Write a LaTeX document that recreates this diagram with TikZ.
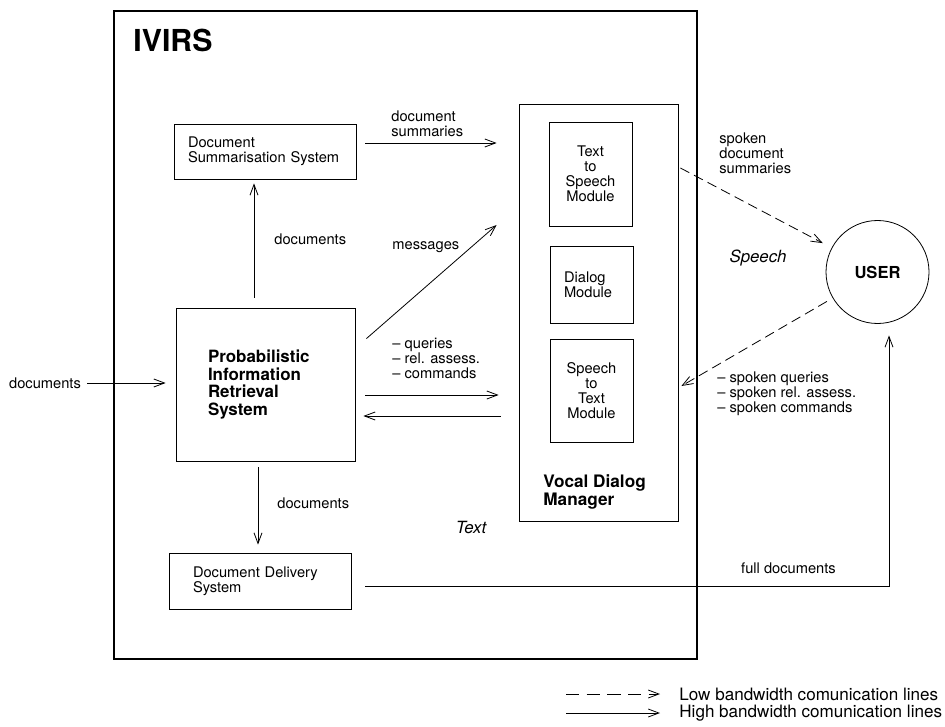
\documentclass[tikz,border=0pt]{standalone}
\usepackage{fontspec}
\setmainfont{TeX Gyre Heros}
\usetikzlibrary{arrows.meta,calc}

\begin{document}
\begin{tikzpicture}[x=0.75pt,y=-0.75pt]
        \tikzstyle{every path}=[line width=0.6pt]

        \tikzstyle{txt}=[font=\fontsize{11}{11.3}\selectfont,align=left,inner sep=0pt]
        \tikzstyle{heavy}=[font=\fontsize{12.7}{13.2}\selectfont\bfseries,align=left,inner sep=0pt]
        \tikzstyle{slant}=[font=\fontsize{12.6}{13}\selectfont\itshape,inner sep=0pt]
        \tikzstyle{legend}=[font=\fontsize{12.8}{13}\selectfont,inner sep=0pt,anchor=west]
        \tikzstyle{box}=[draw,rectangle,txt]
        \tikzstyle{hb}=[-{Straight Barb[length=8pt,width=6pt]}]
        \tikzstyle{lb}=[hb,dash pattern=on 7.5pt off 4pt]

        \useasboundingbox (0,0) rectangle (945,727);

        \node [draw,line width=1.8pt,minimum width=437.25pt,minimum height=486pt,inner sep=0pt] (ivirs) at (405.5,335) {};
        \node [anchor=west,inner sep=0pt,font=\fontsize{22.7}{24}\selectfont\bfseries] (title) at (133,40) {IVIRS};

        \node [box,minimum width=136.5pt,minimum height=41.25pt,text width=115.5pt,inner xsep=10.5pt] (dss) at (265,151.5) {Document\\Summarisation System};
        \node [box,heavy,minimum width=134.25pt,minimum height=114.75pt,text width=86.25pt,inner xsep=24pt] (pirs) at (265.5,384.5) {Probabilistic\\Information\\Retrieval\\System};
        \node [box,minimum width=136.5pt,minimum height=42pt,text width=100.5pt,inner xsep=18pt] (dds) at (260,581) {Document Delivery\\System};

        \node [draw,minimum width=119.25pt,minimum height=312.75pt,inner sep=0pt] (vdm) at (598.5,312.5) {};
        \node [heavy,anchor=west,font=\fontsize{12.9}{13.5}\selectfont\bfseries] (vdmlabel) at (543,492) {Vocal Dialog\\Manager};
        \node [box,align=center,minimum width=62.25pt,minimum height=78pt,text width=56pt,inner xsep=3.125pt] (tts) at (590.5,174) {Text\\to\\Speech\\Module};
        \node [box,minimum width=62.25pt,minimum height=57.75pt,text width=41.25pt,inner xsep=10.5pt] (dm) at (591.5,284.5) {Dialog\\Module};
        \node [box,align=center,minimum width=62.25pt,minimum height=77.25pt,text width=56pt,inner xsep=3.125pt] (stt) at (591.5,390.5) {Speech\\to\\Text\\Module};

        \node [draw,circle,minimum size=77.25pt,inner sep=0pt,font=\fontsize{12.4}{13}\selectfont\bfseries] (user) at (877.5,272) {USER};

        %labels of the lines
        \node [txt] (docin) at (45,383) {documents};
        \node [txt,anchor=west] (sumlabel) at (391,123.5) {document\\summaries};
        \node [txt,anchor=west] (doclabel1) at (274,239) {documents};
        \node [txt,anchor=west] (msglabel) at (392,247) {messages};
        \node [txt,anchor=west] (qlabel) at (392,358) {– queries\\– rel. assess.\\– commands};
        \node [txt,anchor=west] (doclabel2) at (277,503) {documents};
        \node [txt] (fulllabel) at (788.5,568) {full documents};
        \node [txt,anchor=west] (spklabel1) at (719,153) {spoken\\document\\summaries};
        \node [txt,anchor=west] (spklabel2) at (717,394) {– spoken queries\\– spoken rel. assess.\\– spoken commands};
        \node [slant] (speech) at (758,258) {Speech};
        \node [slant] (textlabel) at (471,527) {Text};

        \draw [hb] ($(dss.east)+(9,-8.5)$) -- ($(vdm.west |- dss.east)+(-22,-8.5)$);
        \draw [hb] ($(pirs.north)+(-11.5,-10)$) -- ($(dss.south)+(-11,4)$);
        \draw [hb] ($(pirs.north east)+(11,31)$) -- ($(vdm.west)+(-22,-87.5)$);
        \draw [hb] ($(pirs.east)+(10,10.5)$) -- ($(vdm.west)+(-20,82.5)$);
        \draw [hb] ($(vdm.west)+(-18,103.5)$) -- ($(pirs.east)+(8,31.5)$);
        \draw [hb,shorten <=4.5pt,shorten >=7.5pt] (docin.east) -- (docin.east -| pirs.west);
        \draw [hb] ($(pirs.south)+(-7.5,6)$) -- ($(dds.north)+(-2,-8)$);
        \draw [hb] ($(dds.east)+(14,5)$) -| ($(user.south)+(11.5,11.5)$);
        \draw [lb,shorten >=7.5pt] ($(vdm.east |- tts.east)+(2,-6)$) -- (user);
        \draw [lb,shorten <=5pt] (user) -- ($(vdm.east |- stt.east)+(3,-4.5)$);

        %legend
        \node [legend] (lowtxt) at (679,694) {Low bandwidth comunication lines};
        \node [legend] (hightxt) at (679,713) {High bandwidth comunication lines};
        \draw [lb,dash pattern=on 10pt off 5.5pt] ($(lowtxt.west)+(-113,0)$) -- ($(lowtxt.west)+(-19,0)$);
        \draw [hb] ($(hightxt.west)+(-113,0)$) -- ($(hightxt.west)+(-19,0)$);
\end{tikzpicture}
\end{document}
